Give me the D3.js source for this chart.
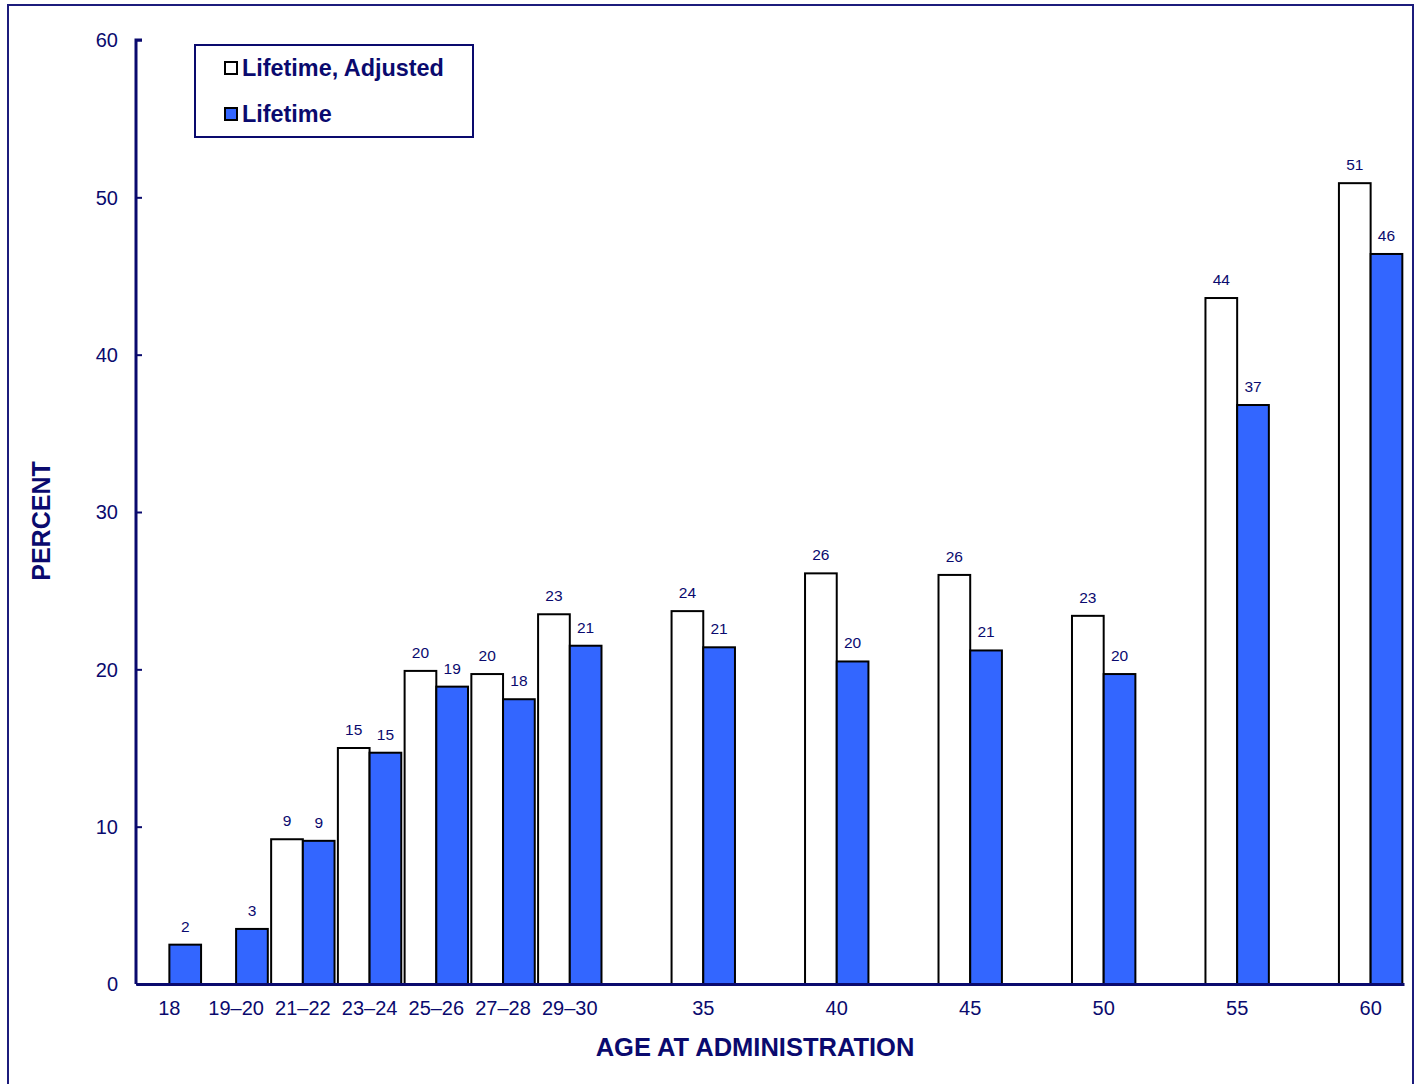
<!DOCTYPE html>
<html><head><meta charset="utf-8">
<script src="https://cdn.jsdelivr.net/npm/d3@7"></script>
<style>body{margin:0;background:#fff}svg{display:block}text{font-family:"Liberation Sans",Arial,sans-serif}</style>
</head><body>
<svg id="c" width="1421" height="1084"></svg>
<script>
const slots = ["18","19–20","21–22","23–24","25–26","27–28","29–30","_31","35","_36","40","_41","45","_46","50","_51","55","_56","60"];
const categories = ["18","19–20","21–22","23–24","25–26","27–28","29–30","35","40","45","50","55","60"];
const adjusted = [null,null,9.2,15.0,19.9,19.7,23.5,23.7,26.1,26.0,23.4,43.6,50.9];
const lifetime = [2.5,3.5,9.1,14.7,18.9,18.1,21.5,21.4,20.5,21.2,19.7,36.8,46.4];
const adjustedLabels = [null,null,"9","15","20","20","23","24","26","26","23","44","51"];
const lifetimeLabels = ["2","3","9","15","19","18","21","21","20","21","20","37","46"];
const yTicks = [0,10,20,30,40,50,60];
const seriesNames = ["Lifetime, Adjusted","Lifetime"];

const navy = "#0a0a6e", blue = "#3366ff";
const svg = d3.select("#c");
// outer frame
svg.append("rect").attr("x",8).attr("y",5).attr("width",1405).attr("height",1100)
  .attr("fill","none").attr("stroke","#1c1c7c").attr("stroke-width",2);

const x = d3.scaleBand().domain(slots).range([136,1404]).padding(0);
const y = d3.scaleLinear().domain([0,60]).range([984,40]);
const bw = x.bandwidth()*0.475;

const g = svg.append("g");
categories.forEach((c,i)=>{
  const cx = x(c)+x.bandwidth()/2;
  if(adjusted[i]!=null){
    g.append("rect").attr("x",cx-bw).attr("y",y(adjusted[i])).attr("width",bw).attr("height",y(0)-y(adjusted[i]))
      .attr("fill","#fff").attr("stroke","#000").attr("stroke-width",2);
    g.append("text").attr("x",cx-bw/2).attr("y",y(adjusted[i])-13).attr("text-anchor","middle")
      .attr("font-size",15.5).attr("fill",navy).text(adjustedLabels[i]);
  }
  g.append("rect").attr("x",cx).attr("y",y(lifetime[i])).attr("width",bw).attr("height",y(0)-y(lifetime[i]))
    .attr("fill",blue).attr("stroke","#000").attr("stroke-width",2);
  g.append("text").attr("x",cx+bw/2).attr("y",y(lifetime[i])-13).attr("text-anchor","middle")
    .attr("font-size",15.5).attr("fill",navy).text(lifetimeLabels[i]);
});

// y axis
const ya = svg.append("g").attr("transform","translate(136,0)")
  .call(d3.axisRight(y).tickValues(yTicks).tickSize(6).tickFormat(""));
ya.select(".domain").attr("stroke",navy).attr("stroke-width",3).attr("d","M6,40H0V984");
ya.selectAll(".tick line").attr("stroke",navy).attr("stroke-width",2);
svg.append("g").selectAll("text").data(yTicks).join("text")
  .attr("x",118).attr("y",d=>y(d)).attr("dy","0.36em").attr("text-anchor","end")
  .attr("font-size",20).attr("fill",navy).text(d=>d);

// x axis
const xa = svg.append("g").attr("transform","translate(0,984)")
  .call(d3.axisBottom(x).tickSize(0).tickFormat(d=>d.startsWith("_")?"":d));
xa.select(".domain").attr("stroke",navy).attr("stroke-width",3);
xa.selectAll("text").attr("font-size",20).attr("fill",navy).attr("dy","0.71em").attr("y",17)
  .attr("font-family","Liberation Sans, Arial, sans-serif");

// titles
svg.append("text").attr("x",755).attr("y",1056).attr("text-anchor","middle")
  .attr("font-size",25.5).attr("font-weight","bold").attr("fill",navy).text("AGE AT ADMINISTRATION");
svg.append("text").attr("transform","translate(50,521) rotate(-90)").attr("text-anchor","middle")
  .attr("font-size",25).attr("font-weight","bold").attr("fill",navy).text("PERCENT");

// legend
svg.append("rect").attr("x",195).attr("y",45).attr("width",278).attr("height",92)
  .attr("fill","#fff").attr("stroke",navy).attr("stroke-width",2);
const lc = ["#fff",blue];
seriesNames.forEach((n,i)=>{
  const yy = 68+i*46;
  svg.append("rect").attr("x",225).attr("y",yy-6).attr("width",12).attr("height",12)
    .attr("fill",lc[i]).attr("stroke","#000").attr("stroke-width",2);
  svg.append("text").attr("x",242).attr("y",yy).attr("dy","0.36em")
    .attr("font-size",23.4).attr("font-weight","bold").attr("fill",navy).text(n);
});
</script>
</body></html>
